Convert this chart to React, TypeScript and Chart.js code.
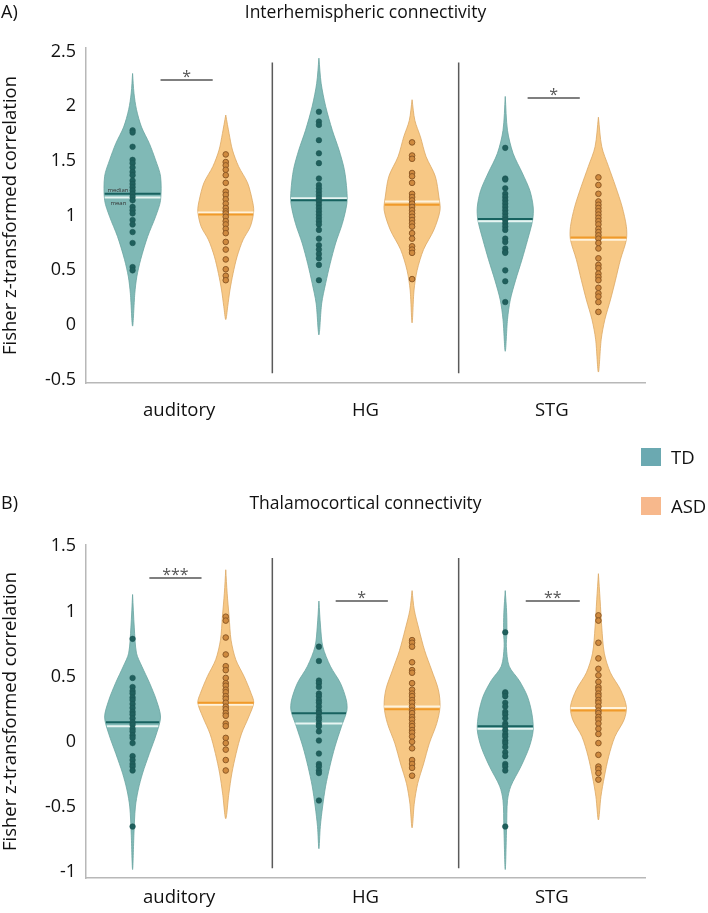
import React, { useEffect, useRef } from "react";
import { Chart, registerables } from "chart.js";
Chart.register(...registerables);

// ---------- data ----------
const categories = ["auditory", "HG", "STG"];
const groups = ["TD", "ASD"];
const yTicksA = [-0.5, 0, 0.5, 1, 1.5, 2, 2.5];
const yTicksB = [-1, -0.5, 0, 0.5, 1, 1.5];

// Panel A – interhemispheric: violin profiles (value, relative density width), points, median, mean
const aTdAudY = [2.3, 2.12, 1.97, 1.81, 1.66, 1.51, 1.36, 1.14, 0.99, 0.81, 0.6, 0.44, 0.29, -0.01];
const aTdAudW = [0, 0.05, 0.14, 0.32, 0.6, 0.82, 1, 1, 0.82, 0.54, 0.29, 0.15, 0.08, 0];
const aTdAudPts = [1.78, 1.76, 1.63, 1.51, 1.48, 1.44, 1.4, 1.37, 1.32, 1.29, 1.26, 1.23, 1.2, 1.17, 1.14, 1.08, 1.05, 1.02, 0.96, 0.92, 0.85, 0.75, 0.53, 0.5];
const aTdAudMedMean = [1.2, 1.165];

const aAsdAudY = [1.92, 1.75, 1.6, 1.45, 1.3, 1.14, 1.04, 0.9, 0.78, 0.63, 0.47, 0.32, 0.17, 0.05];
const aAsdAudW = [0, 0.12, 0.24, 0.46, 0.78, 0.95, 1, 0.88, 0.62, 0.41, 0.26, 0.15, 0.07, 0];
const aAsdAudPts = [1.56, 1.49, 1.46, 1.42, 1.37, 1.3, 1.22, 1.19, 1.15, 1.11, 1.07, 1.04, 1.02, 0.99, 0.95, 0.92, 0.88, 0.84, 0.76, 0.69, 0.6, 0.51, 0.45, 0.41];
const aAsdAudMedMean = [1.01, 1.03];

const aTdHgY = [2.44, 2.21, 2.0, 1.78, 1.6, 1.42, 1.23, 1.11, 0.93, 0.75, 0.56, 0.38, 0.2, -0.09];
const aTdHgW = [0, 0.08, 0.24, 0.48, 0.72, 0.91, 1, 1, 0.84, 0.6, 0.4, 0.24, 0.1, 0];
const aTdHgPts = [1.95, 1.86, 1.83, 1.69, 1.57, 1.48, 1.34, 1.28, 1.25, 1.22, 1.19, 1.16, 1.13, 1.1, 1.07, 1.04, 1.01, 0.98, 0.95, 0.92, 0.87, 0.79, 0.73, 0.69, 0.65, 0.61, 0.55, 0.41];
const aTdHgMedMean = [1.14, 1.16];

const aAsdHgY = [2.06, 1.87, 1.72, 1.54, 1.36, 1.17, 1.05, 0.87, 0.69, 0.5, 0.32, 0.02];
const aAsdHgW = [0, 0.1, 0.3, 0.5, 0.83, 0.96, 1, 0.78, 0.41, 0.18, 0.07, 0];
const aAsdHgPts = [1.67, 1.55, 1.52, 1.39, 1.36, 1.3, 1.2, 1.17, 1.14, 1.11, 1.08, 1.05, 1.02, 0.99, 0.96, 0.93, 0.9, 0.84, 0.79, 0.72, 0.69, 0.66, 0.42];
const aAsdHgMedMean = [1.1, 1.13];

const aTdStgY = [2.09, 1.78, 1.57, 1.39, 1.23, 1.08, 0.96, 0.78, 0.6, 0.41, 0.23, 0.05, -0.24];
const aTdStgW = [0, 0.08, 0.28, 0.61, 0.88, 1, 0.98, 0.8, 0.6, 0.37, 0.18, 0.08, 0];
const aTdStgPts = [1.62, 1.34, 1.33, 1.25, 1.2, 1.17, 1.14, 1.11, 1.08, 1.05, 1.02, 0.99, 0.96, 0.93, 0.9, 0.87, 0.79, 0.76, 0.7, 0.67, 0.66, 0.5, 0.4, 0.21];
const aTdStgMedMean = [0.97, 0.95];

const aAsdStgY = [1.9, 1.63, 1.45, 1.27, 1.08, 0.9, 0.78, 0.6, 0.41, 0.23, 0.05, -0.13, -0.43];
const aAsdStgW = [0, 0.12, 0.36, 0.61, 0.85, 1, 1, 0.79, 0.61, 0.43, 0.23, 0.1, 0];
const aAsdStgPts = [1.35, 1.28, 1.2, 1.13, 1.1, 1.07, 1.04, 1.01, 0.98, 0.95, 0.92, 0.88, 0.85, 0.82, 0.79, 0.75, 0.7, 0.61, 0.55, 0.52, 0.47, 0.44, 0.41, 0.34, 0.29, 0.26, 0.21, 0.12];
const aAsdStgMedMean = [0.8, 0.78];

// Panel B – thalamocortical
const bTdAudY = [1.13, 0.88, 0.68, 0.58, 0.45, 0.32, 0.19, 0.06, -0.09, -0.24, -0.37, -0.5, -0.7, -0.98];
const bTdAudW = [0, 0.06, 0.14, 0.33, 0.61, 0.85, 1, 0.85, 0.6, 0.36, 0.2, 0.1, 0.05, 0];
const bTdAudPts = [0.79, 0.49, 0.42, 0.39, 0.37, 0.34, 0.32, 0.29, 0.26, 0.23, 0.21, 0.18, 0.15, 0.13, 0.1, 0.08, 0.05, 0.03, -0.01, -0.11, -0.14, -0.17, -0.19, -0.22, -0.65];
const bTdAudMedMean = [0.15, 0.12];

const bAsdAudY = [1.32, 1.14, 0.96, 0.78, 0.63, 0.5, 0.37, 0.3, 0.19, 0.06, -0.09, -0.24, -0.4, -0.59];
const bAsdAudW = [0, 0.05, 0.12, 0.19, 0.36, 0.66, 0.91, 1, 0.82, 0.56, 0.37, 0.22, 0.11, 0];
const bAsdAudPts = [0.96, 0.93, 0.8, 0.67, 0.58, 0.55, 0.49, 0.45, 0.43, 0.4, 0.38, 0.35, 0.33, 0.3, 0.27, 0.25, 0.22, 0.2, 0.14, 0.12, 0.03, -0.01, -0.06, -0.14, -0.22];
const bAsdAudMedMean = [0.3, 0.285];

const bTdHgY = [1.08, 0.88, 0.73, 0.58, 0.45, 0.32, 0.24, 0.12, -0.04, -0.19, -0.34, -0.5, -0.65, -0.82];
const bTdHgW = [0, 0.06, 0.14, 0.41, 0.77, 0.98, 1, 0.81, 0.57, 0.39, 0.24, 0.13, 0.05, 0];
const bTdHgPts = [0.73, 0.62, 0.47, 0.45, 0.42, 0.37, 0.35, 0.32, 0.3, 0.27, 0.24, 0.22, 0.19, 0.17, 0.14, 0.12, 0.08, 0.01, -0.09, -0.17, -0.19, -0.22, -0.24, -0.45];
const bTdHgMedMean = [0.22, 0.14];

const bAsdHgY = [1.16, 1.01, 0.86, 0.7, 0.55, 0.4, 0.27, 0.14, -0.01, -0.17, -0.32, -0.47, -0.66];
const bAsdHgW = [0, 0.08, 0.25, 0.45, 0.7, 0.94, 1, 0.88, 0.62, 0.41, 0.2, 0.08, 0];
const bAsdHgPts = [0.78, 0.76, 0.73, 0.61, 0.55, 0.53, 0.45, 0.4, 0.37, 0.35, 0.32, 0.3, 0.27, 0.24, 0.22, 0.19, 0.17, 0.14, 0.12, 0.09, 0.07, 0.04, 0.0, -0.05, -0.14, -0.17, -0.2, -0.26];
const bAsdHgMedMean = [0.25, 0.27];

const bTdStgY = [1.16, 0.99, 0.84, 0.73, 0.58, 0.47, 0.35, 0.22, 0.09, -0.04, -0.19, -0.34, -0.45, -0.65, -0.98];
const bTdStgW = [0, 0.05, 0.06, 0.04, 0.14, 0.5, 0.79, 0.95, 1, 0.86, 0.56, 0.2, 0.08, 0.05, 0];
const bTdStgPts = [0.84, 0.38, 0.37, 0.35, 0.3, 0.27, 0.23, 0.21, 0.18, 0.14, 0.12, 0.09, 0.06, 0.04, 0.01, -0.01, -0.04, -0.08, -0.11, -0.17, -0.19, -0.22, -0.65];
const bTdStgMedMean = [0.12, 0.1];

const bAsdStgY = [1.29, 1.09, 0.88, 0.68, 0.53, 0.4, 0.27, 0.17, 0.04, -0.11, -0.27, -0.42, -0.6];
const bAsdStgW = [0, 0.06, 0.12, 0.21, 0.43, 0.79, 1, 0.92, 0.59, 0.37, 0.21, 0.09, 0];
const bAsdStgPts = [0.97, 0.93, 0.76, 0.64, 0.56, 0.51, 0.46, 0.42, 0.4, 0.37, 0.35, 0.32, 0.3, 0.27, 0.24, 0.22, 0.19, 0.17, 0.14, 0.1, 0.06, -0.01, -0.1, -0.19, -0.21, -0.24, -0.29];
const bAsdStgMedMean = [0.24, 0.26];

// significance bars
const sigALabels = ["*", "*"];
const sigAX0 = [0.4, 2.37];
const sigAX1 = [0.68, 2.65];
const sigAY = [2.24, 2.075];
const sigBLabels = ["***", "*", "**"];
const sigBX0 = [0.34, 1.34, 2.36];
const sigBX1 = [0.62, 1.62, 2.65];
const sigBY = [1.257, 1.08, 1.08];

// category separators (x position and vertical extent)
const sepX = [1, 2];
const sepAExtent = [-0.44, 2.4];
const sepBExtent = [-0.97, 1.41];

// ---------- styling ----------
const FONT = "'Open Sans', Lato, sans-serif";
const HALF = 0.15; // max violin half-width in x units
const STYLE = {
  TD: { fill: "#80b9b6", edge: "#6aa4a1", point: "#1f5f5c", pointEdge: "#1a5350", median: "#17625f", mean: "rgba(236,248,246,0.95)" },
  ASD: { fill: "#f7c885", edge: "#dca865", point: "#cf8a3f", pointEdge: "#8e5a26", median: "#f09a2a", mean: "rgba(255,246,226,0.95)" },
};

function widthAt(ys: number[], ws: number[], v: number) {
  for (let i = 0; i < ys.length - 1; i++) {
    const a = ys[i], b = ys[i + 1];
    if (v <= a && v >= b) {
      const t = (a - v) / (a - b || 1);
      return ws[i] + (ws[i + 1] - ws[i]) * t;
    }
  }
  return 0;
}

type Violin = { ys: number[]; ws: number[]; pts: number[]; mm: number[]; group: string; cat: number };

function violinDatasets(v: Violin) {
  const s = (STYLE as any)[v.group];
  const c = v.cat + (v.group === "TD" ? 0.25 : 0.75);
  const shape: { x: number; y: number }[] = [];
  for (let i = 0; i < v.ys.length; i++) shape.push({ x: c + v.ws[i] * HALF, y: v.ys[i] });
  for (let i = v.ys.length - 2; i >= 0; i--) shape.push({ x: c - v.ws[i] * HALF, y: v.ys[i] });
  const line = (val: number) => {
    const w = widthAt(v.ys, v.ws, val) * HALF;
    return [{ x: c - w, y: val }, { x: c + w, y: val }];
  };
  return [
    { type: "line", data: shape, fill: "shape", backgroundColor: s.fill, borderColor: s.edge, borderWidth: 0.8, pointRadius: 0, tension: 0.3, order: 10 },
    { type: "line", data: line(v.mm[1]), borderColor: s.mean, borderWidth: 2, pointRadius: 0, fill: false, order: 8 },
    { type: "line", data: line(v.mm[0]), borderColor: s.median, borderWidth: 2, pointRadius: 0, fill: false, order: 7 },
    { type: "line", data: v.pts.map((y) => ({ x: c, y })), showLine: false, pointRadius: 2.8, pointBackgroundColor: s.point, pointBorderColor: s.pointEdge, pointBorderWidth: v.group === "ASD" ? 1 : 0.5, order: 5 },
  ];
}

type Panel = {
  letter: string; title: string; violins: Violin[]; yTicks: number[]; yMin: number; yMax: number;
  sepExt: number[]; sigLabels: string[]; sigX0: number[]; sigX1: number[]; sigY: number[];
  padTop: number; xHeight: number; xPad: number; titleY: number; height: number; notes: boolean;
};

const panelA: Panel = {
  letter: "A)", title: "Interhemispheric connectivity",
  violins: [
    { ys: aTdAudY, ws: aTdAudW, pts: aTdAudPts, mm: aTdAudMedMean, group: "TD", cat: 0 },
    { ys: aAsdAudY, ws: aAsdAudW, pts: aAsdAudPts, mm: aAsdAudMedMean, group: "ASD", cat: 0 },
    { ys: aTdHgY, ws: aTdHgW, pts: aTdHgPts, mm: aTdHgMedMean, group: "TD", cat: 1 },
    { ys: aAsdHgY, ws: aAsdHgW, pts: aAsdHgPts, mm: aAsdHgMedMean, group: "ASD", cat: 1 },
    { ys: aTdStgY, ws: aTdStgW, pts: aTdStgPts, mm: aTdStgMedMean, group: "TD", cat: 2 },
    { ys: aAsdStgY, ws: aAsdStgW, pts: aAsdStgPts, mm: aAsdStgMedMean, group: "ASD", cat: 2 },
  ],
  yTicks: yTicksA, yMin: -0.53, yMax: 2.533, sepExt: sepAExtent,
  sigLabels: sigALabels, sigX0: sigAX0, sigX1: sigAX1, sigY: sigAY,
  padTop: 48, xHeight: 57, xPad: 17, titleY: 13, height: 440, notes: true,
};

const panelB: Panel = {
  letter: "B)", title: "Thalamocortical connectivity",
  violins: [
    { ys: bTdAudY, ws: bTdAudW, pts: bTdAudPts, mm: bTdAudMedMean, group: "TD", cat: 0 },
    { ys: bAsdAudY, ws: bAsdAudW, pts: bAsdAudPts, mm: bAsdAudMedMean, group: "ASD", cat: 0 },
    { ys: bTdHgY, ws: bTdHgW, pts: bTdHgPts, mm: bTdHgMedMean, group: "TD", cat: 1 },
    { ys: bAsdHgY, ws: bAsdHgW, pts: bAsdHgPts, mm: bAsdHgMedMean, group: "ASD", cat: 1 },
    { ys: bTdStgY, ws: bTdStgW, pts: bTdStgPts, mm: bTdStgMedMean, group: "TD", cat: 2 },
    { ys: bAsdStgY, ws: bAsdStgW, pts: bAsdStgPts, mm: bAsdStgMedMean, group: "ASD", cat: 2 },
  ],
  yTicks: yTicksB, yMin: -1.045, yMax: 1.51, sepExt: sepBExtent,
  sigLabels: sigBLabels, sigX0: sigBX0, sigX1: sigBX1, sigY: sigBY,
  padTop: 105, xHeight: 35, xPad: 9, titleY: 64, height: 473, notes: false,
};

function buildConfig(p: Panel): any {
  const datasets: any[] = [];
  p.violins.forEach((v) => datasets.push(...violinDatasets(v)));
  sepX.forEach((x) =>
    datasets.push({ type: "line", data: [{ x, y: p.sepExt[0] }, { x, y: p.sepExt[1] }], borderColor: "#5a5a5a", borderWidth: 1.5, pointRadius: 0, fill: false, order: 3 })
  );
  p.sigY.forEach((y, i) =>
    datasets.push({ type: "line", data: [{ x: p.sigX0[i], y }, { x: p.sigX1[i], y }], borderColor: "#555", borderWidth: 1.5, pointRadius: 0, fill: false, order: 3 })
  );

  const annot = {
    id: "annot",
    afterDatasetsDraw(chart: any) {
      const { ctx, chartArea, scales } = chart;
      ctx.save();
      ctx.fillStyle = "#111";
      ctx.textBaseline = "middle";
      ctx.textAlign = "left";
      ctx.font = `18px ${FONT}`;
      ctx.fillText(p.letter, 1, p.titleY);
      ctx.textAlign = "center";
      ctx.font = `17.5px ${FONT}`;
      ctx.fillText(p.title, (chartArea.left + chartArea.right) / 2, p.titleY);
      ctx.fillStyle = "#555";
      ctx.font = `16px ${FONT}`;
      ctx.textBaseline = "alphabetic";
      p.sigLabels.forEach((lab, i) => {
        const x = scales.x.getPixelForValue((p.sigX0[i] + p.sigX1[i]) / 2);
        const y = scales.y.getPixelForValue(p.sigY[i]);
        ctx.fillText(lab, x, y + 2);
      });
      if (p.notes) {
        const v = p.violins[0];
        const xl = scales.x.getPixelForValue(v.cat + 0.25 - HALF * 0.9);
        ctx.fillStyle = "#333";
        ctx.font = `6px ${FONT}`;
        ctx.textAlign = "left";
        ctx.fillText("median", xl, scales.y.getPixelForValue(v.mm[0]) - 2);
        ctx.fillText("mean", xl + 3, scales.y.getPixelForValue(v.mm[1]) + 7);
      }
      ctx.restore();
    },
  };

  return {
    type: "line",
    data: { datasets },
    options: {
      responsive: false,
      animation: false,
      events: [],
      layout: { padding: { top: p.padTop, right: 63, left: 0, bottom: 0 } },
      plugins: { legend: { display: false }, tooltip: { enabled: false } },
      scales: {
        x: {
          type: "linear", min: 0, max: 3,
          grid: { display: false, drawTicks: false },
          border: { display: true, color: "#b8b8b8", width: 1.5 },
          afterFit: (s: any) => { s.height = p.xHeight; },
          afterBuildTicks: (s: any) => { s.ticks = categories.map((_, i) => ({ value: i + 0.5 })); },
          ticks: {
            autoSkip: false, maxRotation: 0, padding: p.xPad, color: "#111",
            font: { family: FONT, size: 18.5 },
            callback: (v: number) => categories[Math.floor(v)],
          },
        },
        y: {
          type: "linear", min: p.yMin, max: p.yMax,
          grid: { display: false, drawTicks: false },
          border: { display: true, color: "#b8b8b8", width: 1.5 },
          afterFit: (s: any) => { s.width = 86; },
          afterBuildTicks: (s: any) => { s.ticks = p.yTicks.map((value) => ({ value })); },
          ticks: { padding: 10, color: "#111", font: { family: FONT, size: 18 }, callback: (v: number) => String(v) },
          title: { display: true, text: "Fisher z-transformed correlation", color: "#111", font: { family: FONT, size: 18.5 }, padding: { top: 0, bottom: 0 } },
        },
      },
    },
    plugins: [annot],
  };
}

export default function App() {
  const refA = useRef<HTMLCanvasElement>(null);
  const refB = useRef<HTMLCanvasElement>(null);
  useEffect(() => {
    const a = new Chart(refA.current as HTMLCanvasElement, buildConfig(panelA));
    const b = new Chart(refB.current as HTMLCanvasElement, buildConfig(panelB));
    return () => { a.destroy(); b.destroy(); };
  }, []);
  const legendColors = ["#6ba9b1", "#f7b88c"];
  return (
    <div style={{ position: "absolute", left: 0, top: 0, width: 708, height: 913, background: "#fff", fontFamily: FONT }}>
      <canvas ref={refA} width={708} height={440} style={{ position: "absolute", left: 0, top: 0, width: 708, height: 440 }} />
      <canvas ref={refB} width={708} height={473} style={{ position: "absolute", left: 0, top: 440, width: 708, height: 473 }} />
      {groups.map((g, i) => (
        <div key={g} style={{ position: "absolute", left: 641, top: 447 + i * 49, height: 19, display: "flex", alignItems: "center" }}>
          <div style={{ width: 20, height: 18, background: legendColors[i] }} />
          <span style={{ marginLeft: 10, fontSize: 18.5, color: "#111", lineHeight: "19px" }}>{g}</span>
        </div>
      ))}
    </div>
  );
}
